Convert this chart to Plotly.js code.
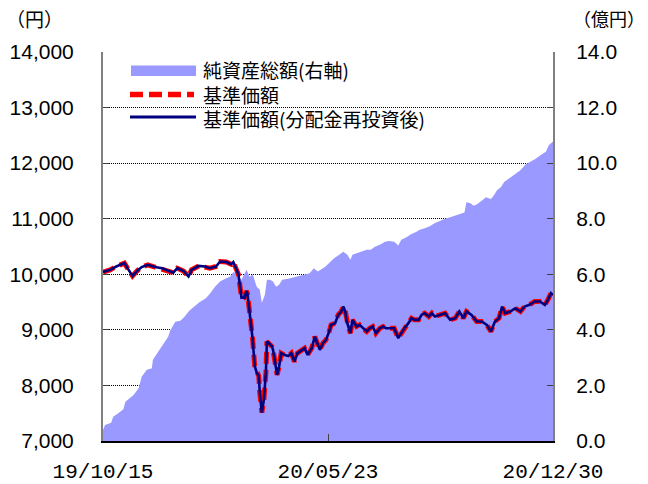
<!DOCTYPE html>
<html>
<head>
<meta charset="utf-8">
<script src="https://cdn.plot.ly/plotly-3.0.1.min.js"></script>
<style>
  html, body { margin: 0; padding: 0; background: #ffffff; }
  #chart { width: 648px; height: 484px; }
</style>
</head>
<body>
<div id="chart"></div>
<script>
// ---- Data ----
const seriesNames = ['純資産総額(右軸)', '基準価額', '基準価額(分配金再投資後)'];

const navDates = [
  '2019-10-15','2019-10-22','2019-10-28','2019-11-05','2019-11-08','2019-11-13','2019-11-18','2019-11-22','2019-11-28',
  '2019-12-05','2019-12-12','2019-12-18','2019-12-23','2019-12-27','2020-01-02','2020-01-07','2020-01-10','2020-01-17',
  '2020-01-23','2020-01-28','2020-02-03','2020-02-07','2020-02-13','2020-02-18','2020-02-20','2020-02-21','2020-02-25',
  '2020-02-27','2020-02-28','2020-03-02','2020-03-04','2020-03-05','2020-03-07','2020-03-09','2020-03-10','2020-03-12',
  '2020-03-14','2020-03-16','2020-03-17','2020-03-19','2020-03-21','2020-03-23','2020-03-24','2020-03-26','2020-03-29',
  '2020-03-30','2020-04-02','2020-04-03','2020-04-05','2020-04-07','2020-04-10','2020-04-14','2020-04-17','2020-04-20',
  '2020-04-23','2020-04-27','2020-04-30','2020-05-03','2020-05-07','2020-05-10','2020-05-12','2020-05-15','2020-05-18',
  '2020-05-21','2020-05-24','2020-05-26','2020-05-30','2020-06-02','2020-06-05','2020-06-07','2020-06-09','2020-06-10',
  '2020-06-12','2020-06-14','2020-06-16','2020-06-20','2020-06-23','2020-06-26','2020-06-30','2020-07-03','2020-07-06',
  '2020-07-09','2020-07-13','2020-07-16','2020-07-19','2020-07-24','2020-07-27','2020-07-31','2020-08-03','2020-08-06',
  '2020-08-10','2020-08-13','2020-08-16','2020-08-20','2020-08-23','2020-08-26','2020-08-30','2020-09-02','2020-09-05',
  '2020-09-10','2020-09-15','2020-09-20','2020-09-25','2020-09-29','2020-10-03','2020-10-06','2020-10-11','2020-10-16',
  '2020-10-21','2020-10-26','2020-10-30','2020-11-03','2020-11-07','2020-11-10','2020-11-13','2020-11-18','2020-11-23',
  '2020-11-28','2020-12-02','2020-12-07','2020-12-12','2020-12-17','2020-12-22','2020-12-25','2020-12-28','2020-12-30'
];

// 基準価額 (円)
const nav = [
  10040,10080,10140,10200,10110,9970,10070,10130,10170,
  10130,10110,10060,10030,10110,10060,9960,10080,10150,
  10140,10110,10140,10230,10220,10180,10220,10180,10000,
  9730,9580,9580,9700,9640,9310,9070,8830,8350,
  8230,8170,7870,7510,7740,8230,8790,8760,8700,
  8640,8280,8190,8340,8580,8550,8530,8580,8430,
  8580,8640,8670,8550,8670,8880,8790,8640,8760,
  8820,8960,9090,9120,9270,9330,9420,9330,9180,
  9060,8940,9180,9060,9090,9030,8970,9030,9060,
  8940,9030,9060,9030,9030,9030,8850,8940,9030,
  9120,9210,9180,9180,9270,9300,9240,9300,9240,
  9270,9300,9180,9210,9330,9210,9330,9270,9150,
  9150,9090,8970,9150,9210,9420,9300,9330,9390,
  9330,9420,9450,9510,9510,9450,9540,9660,9630
];

// 基準価額(分配金再投資後) (円) – coincides with 基準価額 in the picture
const navReinvested = [
  10040,10080,10140,10200,10110,9970,10070,10130,10170,
  10130,10110,10060,10030,10110,10060,9960,10080,10150,
  10140,10110,10140,10230,10220,10180,10220,10180,10000,
  9730,9580,9580,9700,9640,9310,9070,8830,8350,
  8230,8170,7870,7510,7740,8230,8790,8760,8700,
  8640,8280,8190,8340,8580,8550,8530,8580,8430,
  8580,8640,8670,8550,8670,8880,8790,8640,8760,
  8820,8960,9090,9120,9270,9330,9420,9330,9180,
  9060,8940,9180,9060,9090,9030,8970,9030,9060,
  8940,9030,9060,9030,9030,9030,8850,8940,9030,
  9120,9210,9180,9180,9270,9300,9240,9300,9240,
  9270,9300,9180,9210,9330,9210,9330,9270,9150,
  9150,9090,8970,9150,9210,9420,9300,9330,9390,
  9330,9420,9450,9510,9510,9450,9540,9660,9630
];

const assetDates = [
  '2019-10-15','2019-10-17','2019-10-23','2019-10-25','2019-10-30','2019-11-04','2019-11-06','2019-11-10','2019-11-14',
  '2019-11-19','2019-11-22','2019-11-27','2019-12-02','2019-12-03','2019-12-08','2019-12-13','2019-12-18','2019-12-20',
  '2019-12-25','2019-12-30','2020-01-03','2020-01-08','2020-01-13','2020-01-18','2020-01-24','2020-01-28','2020-02-02',
  '2020-02-07','2020-02-10','2020-02-17','2020-02-20','2020-02-23','2020-02-28','2020-03-04','2020-03-07','2020-03-10',
  '2020-03-14','2020-03-17','2020-03-19','2020-03-22','2020-03-24','2020-03-27','2020-03-30','2020-04-02','2020-04-05',
  '2020-04-08','2020-04-15','2020-04-22','2020-04-28','2020-05-05','2020-05-09','2020-05-13','2020-05-20','2020-05-24',
  '2020-05-29','2020-06-03','2020-06-07','2020-06-11','2020-06-14','2020-06-16','2020-06-21','2020-06-25','2020-06-30',
  '2020-07-04','2020-07-08','2020-07-13','2020-07-18','2020-07-22','2020-07-27','2020-07-31','2020-08-03','2020-08-08',
  '2020-08-13','2020-08-18','2020-08-21','2020-08-26','2020-08-31','2020-09-05','2020-09-10','2020-09-15','2020-09-20',
  '2020-09-25','2020-09-30','2020-10-04','2020-10-06','2020-10-10','2020-10-13','2020-10-16','2020-10-21','2020-10-25',
  '2020-10-30','2020-11-02','2020-11-05','2020-11-09','2020-11-12','2020-11-15','2020-11-18','2020-11-23','2020-11-28',
  '2020-12-03','2020-12-08','2020-12-13','2020-12-18','2020-12-23','2020-12-26','2020-12-30'
];

// 純資産総額 (億円)
const netAssets = [
  0.40,0.58,0.66,0.87,1.00,1.14,1.41,1.54,1.66,
  1.90,2.31,2.56,2.62,2.92,3.21,3.46,3.75,3.98,
  4.29,4.33,4.47,4.70,4.85,5.00,5.14,5.30,5.55,
  5.74,5.80,5.92,6.08,6.02,5.80,6.16,5.90,6.00,
  5.55,5.44,4.98,5.26,5.80,5.80,5.74,5.55,5.62,
  5.80,5.85,5.92,5.98,6.04,6.22,6.10,6.26,6.42,
  6.58,6.70,6.81,6.70,6.52,6.70,6.76,6.81,6.88,
  6.88,6.99,7.06,7.17,7.20,7.17,7.04,7.24,7.33,
  7.45,7.53,7.60,7.66,7.73,7.85,7.93,8.00,8.05,
  8.12,8.18,8.22,8.59,8.56,8.47,8.51,8.65,8.77,
  8.71,8.84,9.02,9.14,9.32,9.40,9.50,9.62,9.74,
  9.95,10.05,10.16,10.29,10.41,10.65,10.78
];

// Axis ticks
const xRange = ['2019-10-15', '2020-12-30'];
const xTickVals = ['2019-10-15', '2020-05-23', '2020-12-30'];
const xTickText = ['19/10/15', '20/05/23', '20/12/30'];
const navTickVals = [7000, 8000, 9000, 10000, 11000, 12000, 13000, 14000];
const navTickText = ['7,000', '8,000', '9,000', '10,000', '11,000', '12,000', '13,000', '14,000'];
const assetTickVals = [0, 2, 4, 6, 8, 10, 12, 14];
const assetTickText = ['0.0', '2.0', '4.0', '6.0', '8.0', '10.0', '12.0', '14.0'];
const unitLeft = '（円）';
const unitRight = '（億円）';

// ---- Chart ----
const AREA_COLOR = '#9999ff';
const RED = '#ff0000';
const NAVY = '#000080';
const CJK = '"Noto Sans CJK JP", "Noto Sans", sans-serif';
const NUM = '"Liberation Sans", Arial, sans-serif';

const traces = [
  {
    name: seriesNames[0], x: assetDates, y: netAssets, yaxis: 'y', type: 'scatter', mode: 'lines',
    fill: 'tozeroy', fillcolor: AREA_COLOR, line: { width: 0, color: AREA_COLOR }, showlegend: false
  },
  {
    name: seriesNames[1], x: navDates, y: nav, yaxis: 'y2', type: 'scatter', mode: 'lines',
    line: { color: RED, width: 5, dash: '12px,6px' }, showlegend: false
  },
  {
    name: seriesNames[2], x: navDates, y: navReinvested, yaxis: 'y2', type: 'scatter', mode: 'lines',
    line: { color: NAVY, width: 2.6 }, showlegend: false
  }
];

// legend geometry in paper coords (plot area 450 x 389)
const PX = v => (v - 103) / 450;
const PY = v => (441 - v) / 389;

const layout = {
  width: 648, height: 484,
  margin: { l: 103, r: 95, t: 52, b: 43, pad: 0 },
  paper_bgcolor: '#ffffff', plot_bgcolor: '#ffffff',
  showlegend: false,
  font: { family: NUM, size: 21, color: '#000000' },
  xaxis: {
    type: 'date', range: xRange, tickmode: 'array', tickvals: xTickVals, ticktext: xTickText,
    ticks: 'inside', ticklen: 7, tickwidth: 1, tickcolor: '#404040',
    showline: true, linecolor: '#000000', linewidth: 2, showgrid: false, zeroline: false,
    tickfont: { family: '"Liberation Mono", "DejaVu Sans Mono", monospace', size: 21, color: '#000' },
    ticklabelstandoff: 10, automargin: false
  },
  yaxis: {
    side: 'right', range: [0, 14], tickmode: 'array', tickvals: assetTickVals, ticktext: assetTickText,
    ticks: 'inside', ticklen: 6, tickwidth: 1, tickcolor: '#404040',
    showline: true, linecolor: '#808080', linewidth: 2,
    showgrid: true, gridcolor: '#000000', gridwidth: 1, griddash: '1px,1px', zeroline: false,
    tickfont: { family: NUM, size: 21, color: '#000' },
    ticklabelstandoff: 17, automargin: false
  },
  yaxis2: {
    overlaying: 'y', side: 'left', range: [7000, 14000], tickmode: 'array', tickvals: navTickVals, ticktext: navTickText,
    ticks: 'inside', ticklen: 6, tickwidth: 1, tickcolor: '#404040',
    showline: true, linecolor: '#808080', linewidth: 2, showgrid: false, zeroline: false,
    tickfont: { family: NUM, size: 21, color: '#000' },
    ticklabelstandoff: 23, automargin: false
  },
  shapes: [
    { type: 'rect', xref: 'paper', yref: 'paper', x0: PX(131), x1: PX(196), y0: PY(76), y1: PY(65.5),
      fillcolor: AREA_COLOR, line: { width: 0 } },
    { type: 'line', xref: 'paper', yref: 'paper', x0: PX(130), x1: PX(194), y0: PY(94.5), y1: PY(94.5),
      line: { color: RED, width: 5.5, dash: '13px,6px' } },
    { type: 'line', xref: 'paper', yref: 'paper', x0: PX(130), x1: PX(196), y0: PY(117), y1: PY(117),
      line: { color: NAVY, width: 3 } }
  ],
  annotations: [
    { xref: 'paper', yref: 'paper', x: PX(201), y: PY(93.5), xanchor: 'left', yanchor: 'middle', align: 'left',
      showarrow: false,
      text: seriesNames[0] + '<br>' + seriesNames[1] + '<br>' + seriesNames[2],
      font: { family: CJK, size: 19, color: '#000' } },
    { xref: 'paper', yref: 'paper', x: PX(4), y: PY(18), xanchor: 'left', yanchor: 'middle', showarrow: false,
      text: unitLeft, font: { family: CJK, size: 19, color: '#000' } },
    { xref: 'paper', yref: 'paper', x: PX(647), y: PY(18), xanchor: 'right', yanchor: 'middle', showarrow: false,
      text: unitRight, font: { family: CJK, size: 18, color: '#000' } }
  ]
};

Plotly.newPlot('chart', traces, layout, { staticPlot: true, displayModeBar: false });
</script>
</body>
</html>
